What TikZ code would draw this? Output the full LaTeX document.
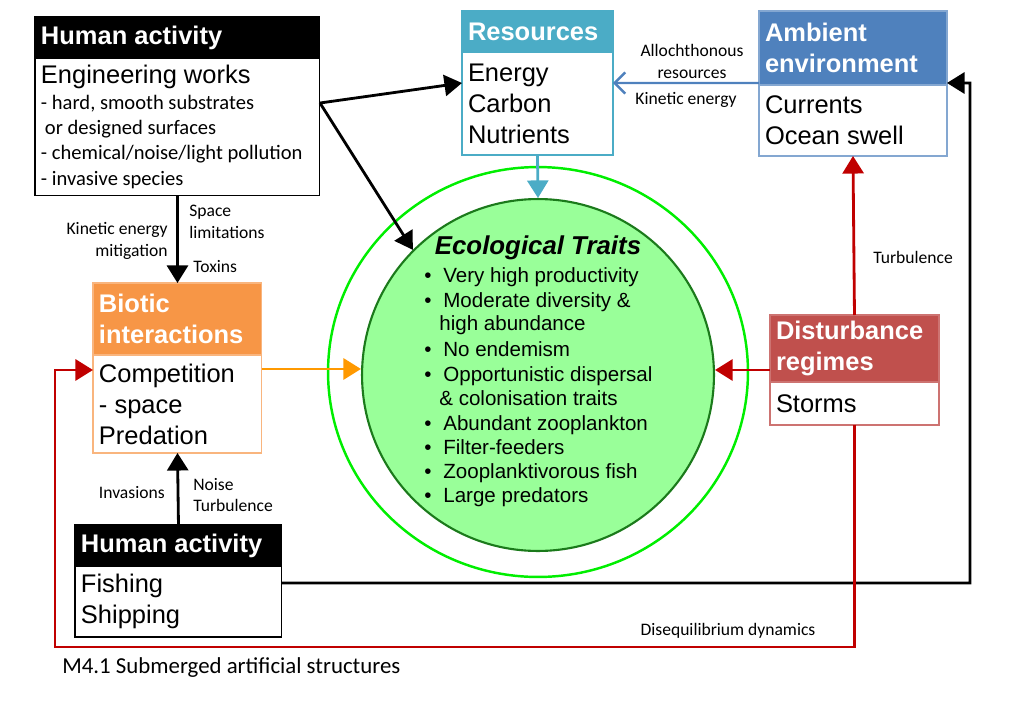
\documentclass[tikz,border=0pt]{standalone}
\usepackage{fontspec}
\setmainfont{Liberation Sans}
\newfontfamily\calib{Carlito}
\usepackage{xcolor}
\definecolor{rescol}{HTML}{4BACC6}
\definecolor{ambcol}{HTML}{4F81BD}
\definecolor{biocol}{HTML}{F79646}
\definecolor{distcol}{HTML}{C0504D}
\definecolor{ecofill}{HTML}{99FF99}
\definecolor{ecoline}{HTML}{1B7A1B}
\definecolor{ringcol}{HTML}{00EE00}
\definecolor{redline}{HTML}{C00000}
\definecolor{orangeline}{HTML}{FF9900}
\usetikzlibrary{arrows.meta,positioning,calc}

\newcommand{\trbul}{\makebox[0.38cm][l]{\textbullet}}
\newcommand{\trind}{\hspace*{0.3cm}}

\tikzset{
	hdr/.style={anchor=north west, outer sep=0pt, inner xsep=0.12cm, inner ysep=0pt,
		align=flush left, text=white, font=\bfseries\fontsize{14.5}{17.6}\selectfont},
	bodybox/.style={anchor=north west, outer sep=0pt, inner xsep=0.12cm, inner ysep=0pt,
		align=flush left, fill=white, line width=0.6pt, font=\fontsize{14.5}{17.6}\selectfont},
	conn/.style={line width=1.6pt, -{Triangle[length=10pt,width=12pt]}},
	lbl/.style={inner sep=0pt, font=\calib\fontsize{10}{12.5}\selectfont},
	trait/.style={inner sep=0pt, anchor=base west, font=\fontsize{11.7}{13.9}\selectfont}
}

\begin{document}
\begin{tikzpicture}[x=0.02cm, y=-0.02cm]

	\useasboundingbox (0,0) rectangle (1011,700);

	% ================= central traits =================
	\draw[ringcol, line width=1.4pt] (538,372) ellipse [x radius=4.2cm, y radius=4.1cm];

	\node[
	circle,
	minimum size=7.04cm,
	fill=ecofill,
	draw=ecoline,
	line width=1.2pt
	] (eco) at (538,375) {};

	\node[font=\bfseries\itshape\fontsize{14.7}{17}\selectfont, inner sep=0pt]
	(ecot) at (538,248) {Ecological Traits};

	\foreach \y/\t in {
		282/{\trbul Very high productivity},
		307/{\trbul Moderate diversity \&},
		330/{\trind high abundance},
		356/{\trbul No endemism},
		381/{\trbul Opportunistic dispersal},
		405/{\trind \& colonisation traits},
		430/{\trbul Abundant zooplankton},
		454/{\trbul Filter-feeders},
		478/{\trbul Zooplanktivorous fish},
		502/{\trbul Large predators}
	}{
		\node[trait] (tr\y) at (424,\y) {\t};
	}

	% ================= boxes =================
	\node[hdr, fill=black, draw=black, line width=0.6pt,
	minimum width=5.7cm, minimum height=0.82cm, text width=5.46cm]
	(hum1h) at (35,17) {Human activity};
	\node[bodybox, draw=black, minimum width=5.7cm, minimum height=2.76cm, text width=5.46cm]
	(hum1) at (hum1h.south west)
	{Engineering works\par\calib\fontsize{11.7}{14.4}\selectfont
		- hard, smooth substrates\\
		\hspace*{0.08cm}or designed surfaces\\
		- chemical/noise/light pollution\\
		- invasive species\par};

	\node[hdr, fill=rescol, draw=rescol, line width=0.6pt,
	minimum width=3.02cm, minimum height=0.82cm, text width=2.78cm]
	(resh) at (462,11) {Resources};
	\node[bodybox, draw=rescol, minimum width=3.02cm, minimum height=2.06cm, text width=2.78cm]
	(res) at (resh.south west) {Energy\\Carbon\\Nutrients};

	\node[hdr, fill=ambcol, draw=ambcol!70, line width=0.6pt,
	minimum width=3.76cm, minimum height=1.48cm, text width=3.52cm]
	(ambh) at (759,11) {Ambient\\environment};
	\node[bodybox, draw=ambcol!70, minimum width=3.76cm, minimum height=1.42cm, text width=3.52cm]
	(amb) at (ambh.south west) {Currents\\Ocean swell};

	\node[hdr, fill=biocol, draw=biocol!70, line width=0.6pt,
	minimum width=3.38cm, minimum height=1.44cm, text width=3.14cm]
	(bioh) at (93,283) {Biotic\\interactions};
	\node[bodybox, draw=biocol!70, minimum width=3.38cm, minimum height=1.96cm, text width=3.14cm]
	(bio) at (bioh.south west) {Competition\\- space\\Predation};

	\node[hdr, fill=distcol, draw=distcol!80, line width=0.6pt,
	minimum width=3.38cm, minimum height=1.34cm, text width=3.14cm]
	(disth) at (770,315) {Disturbance\\regimes};
	\node[bodybox, draw=distcol!80, minimum width=3.38cm, minimum height=0.86cm, text width=3.14cm]
	(dist) at (disth.south west) {Storms};

	\node[hdr, fill=black, draw=black, line width=0.6pt,
	minimum width=4.14cm, minimum height=0.82cm, text width=3.9cm]
	(hum2h) at (75,525) {Human activity};
	\node[bodybox, draw=black, minimum width=4.14cm, minimum height=1.42cm, text width=3.9cm]
	(hum2) at (hum2h.south west) {Fishing\\Shipping};

	% ================= connectors =================
	\coordinate (fork) at (320,103);
	\coordinate (bioout) at ([yshift=-0.28cm]bio.north east);
	\coordinate (bioin) at ([yshift=-0.3cm]bio.north west);
	\coordinate (distout) at ([yshift=0.24cm]disth.south west);
	\coordinate (fishout) at ([yshift=-0.34cm]hum2.north east);
	\coordinate (ambin) at ([yshift=0.04cm]ambh.south east);
	\coordinate (loopr) at (970,83);
	\coordinate (loopbl) at (55,647);

	\draw[conn] (fork) -- ([yshift=-0.62cm]res.north west);
	\draw[conn] (fork) -- (eco.135);
	\draw[conn] (hum1.south) -- (bioh.north);
	\draw[conn] (hum2h.north) -- (bio.south);
	\draw[conn] (fishout) -| (loopr) -- (ambin);

	\draw[conn, rescol] (res.south) -- (eco.north);
	\draw[line width=1.4pt, ambcol, -{Straight Barb[length=6pt,width=12pt]}]
	([yshift=0.04cm]ambh.south west) -- ([yshift=-0.62cm]res.north east);
	\draw[conn, orangeline] (bioout) -- (bioout -| eco.west);

	\draw[conn, redline] (distout) -- (distout -| eco.east);
	\draw[conn, redline] (disth.north) -- (amb.south);
	\draw[conn, redline] (dist.south) |- (loopbl) |- (bioin);

	% ================= labels =================
	\node[lbl, align=center] (lallo) at (692,61) {Allochthonous\\resources};
	\node[lbl] (lkin) at (686,100) {Kinetic energy};
	\node[lbl, align=left, anchor=west] (lspace) at (189,222) {Space\\limitations};
	\node[lbl, anchor=west] (ltox) at (193,267) {Toxins};
	\node[lbl, align=right, anchor=east] (lmit) at (168,241) {Kinetic energy\\mitigation};
	\node[lbl, anchor=west] (lturb) at (873,257) {Turbulence};
	\node[lbl, anchor=east] (linv) at (165,493) {Invasions};
	\node[lbl, align=left, anchor=west] (lnoise) at (193,495) {Noise\\Turbulence};
	\node[lbl] (ldis) at (728,631) {Disequilibrium dynamics};
	\node[lbl, anchor=west, font=\calib\fontsize{13}{15}\selectfont] (capt) at (62,668)
	{M4.1 Submerged artificial structures};

\end{tikzpicture}
\end{document}
